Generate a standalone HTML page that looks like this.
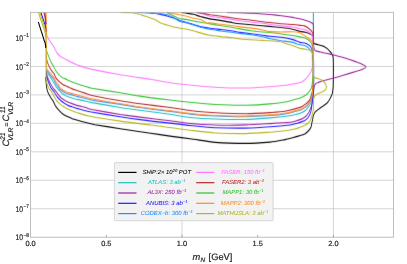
<!DOCTYPE html>
<html><head><meta charset="utf-8"><style>
html,body{margin:0;padding:0;background:#fff;}
body{width:407px;height:264px;overflow:hidden;}
svg{display:block;text-rendering:geometricPrecision;transform:translateZ(0);will-change:transform;font-family:"Liberation Sans",sans-serif;}
</style></head><body>
<svg width="407" height="264" viewBox="0 0 407 264">
<rect width="407" height="264" fill="#ffffff"/>
<g stroke="#b9b9b9" stroke-width="0.6" fill="none">
<line x1="30.6" x2="393.5" y1="38.00" y2="38.00"/>
<line x1="30.6" x2="393.5" y1="66.46" y2="66.46"/>
<line x1="30.6" x2="393.5" y1="94.91" y2="94.91"/>
<line x1="30.6" x2="393.5" y1="123.37" y2="123.37"/>
<line x1="30.6" x2="393.5" y1="151.83" y2="151.83"/>
<line x1="30.6" x2="393.5" y1="180.28" y2="180.28"/>
<line x1="30.6" x2="393.5" y1="208.74" y2="208.74"/>
<line x1="182.00" x2="182.00" y1="12.3" y2="237.2"/>
<line x1="333.40" x2="333.40" y1="12.3" y2="237.2"/>
</g>
<clipPath id="cp"><rect x="30.6" y="12.3" width="362.9" height="224.9"/></clipPath>
<filter id="bl" filterUnits="userSpaceOnUse" x="0" y="0" width="407" height="264"><feConvolveMatrix order="3 3" kernelMatrix="0 0.09 0 0.05 0.72 0.05 0 0.09 0" divisor="1" edgeMode="none" preserveAlpha="false"/></filter>
<g clip-path="url(#cp)"><g filter="url(#bl)"><g transform="scale(0.8,1)" fill="none" stroke-width="1.12" stroke-linejoin="round" stroke-linecap="butt">
<path d="M57.2 77.0C57.2 77.2 57.2 78.1 57.2 79.0C57.3 79.9 57.7 83.5 57.9 84.7C58.0 85.9 58.5 88.4 58.8 89.3C59.0 90.2 59.4 91.5 60.0 92.5C60.6 93.5 62.8 96.7 63.5 97.7C64.2 98.7 65.7 100.2 66.4 101.1C67.0 102.0 68.3 104.5 69.1 105.6C70.0 106.7 72.4 109.2 73.5 110.2C74.6 111.2 77.1 113.2 78.4 113.9C79.6 114.6 82.6 115.8 84.1 116.4C85.6 117.0 88.5 118.3 91.1 119.0C93.7 119.7 103.0 121.6 106.2 122.3C109.5 123.0 113.6 123.9 118.8 124.7C123.9 125.4 142.3 127.7 150.4 128.8C158.5 129.8 180.7 132.4 188.2 133.2C195.8 134.1 209.0 135.7 214.8 136.4C220.5 137.0 231.2 138.1 237.5 138.8C243.8 139.4 261.0 141.8 269.1 142.4C277.2 142.9 299.0 143.4 307.0 143.4C315.0 143.4 331.8 142.5 337.5 142.1C343.2 141.7 352.8 140.1 356.2 139.6C359.7 139.1 364.7 137.9 366.7 137.5C368.8 137.1 372.2 136.3 373.9 135.9C375.5 135.5 379.6 134.5 381.0 133.9C382.4 133.3 385.1 131.3 386.0 130.5C386.9 129.7 388.3 128.1 388.8 127.0C389.2 125.9 389.9 122.7 390.2 121.4C390.6 120.1 391.2 116.8 391.6 115.7C392.1 114.6 393.4 112.6 394.1 111.9C394.8 111.2 396.7 110.3 397.7 109.6C398.8 108.9 402.0 107.0 403.4 106.2C404.7 105.4 408.1 103.7 409.1 102.8C410.2 101.9 411.8 99.9 412.5 98.8C413.2 97.7 414.9 95.0 415.4 93.4C415.8 91.8 416.4 89.6 416.5 85.5C416.6 81.4 416.7 61.9 416.5 58.2C416.3 54.5 415.2 54.8 414.8 54.0C414.3 53.2 413.2 52.1 412.5 51.5C411.8 50.9 410.0 49.2 409.1 48.6C408.2 48.0 406.2 46.9 404.9 46.4C403.5 45.9 399.2 45.0 397.7 44.7C396.3 44.4 393.1 44.0 392.4 43.5C391.7 43.0 391.8 40.4 391.7 40.0" stroke="#000000"/>
<path d="M392.4 43.5C392.3 43.1 391.9 40.9 391.7 40.0C391.6 39.1 392.0 36.7 391.5 36.0C391.0 35.3 388.8 34.3 387.7 33.9C386.7 33.5 383.6 32.5 382.1 32.2C380.6 31.9 376.9 31.8 375.0 31.4C373.1 31.0 368.6 29.7 365.9 29.2C363.2 28.7 355.1 27.8 351.7 27.5C348.4 27.2 340.2 26.6 337.5 26.4C334.8 26.2 331.1 26.0 328.4 25.8C325.7 25.6 317.6 24.9 314.2 24.7C310.9 24.5 302.7 24.0 300.0 23.8C297.3 23.6 293.6 23.1 290.9 22.7C288.2 22.3 280.1 21.0 276.8 20.6C273.4 20.2 265.5 19.4 262.5 18.9C259.5 18.4 253.0 17.0 250.6 16.5C248.2 16.0 244.0 14.7 242.0 14.3C240.0 13.9 235.2 13.3 233.5 13.1C231.8 12.9 227.9 12.5 227.1 12.4" stroke="#000000" stroke-width="1.12"/>
<path d="M58.0 70.0C58.1 70.3 58.0 71.8 58.5 72.5C59.0 73.2 61.1 75.4 61.9 76.2C62.6 77.0 64.1 78.5 64.7 79.4C65.4 80.3 66.9 82.6 67.6 83.5C68.4 84.4 70.2 86.7 71.0 87.5C71.8 88.3 73.7 90.1 74.4 90.7C75.1 91.3 75.9 92.4 76.9 93.0C77.9 93.6 81.5 95.3 83.0 95.9C84.5 96.5 88.4 97.6 90.0 98.0C91.6 98.4 95.2 99.2 97.1 99.5C99.0 99.8 104.2 100.6 106.2 101.0C108.3 101.4 109.9 101.8 115.0 102.6C120.1 103.3 143.4 106.6 150.4 107.5C157.4 108.5 167.8 109.6 175.0 110.3C182.2 111.1 205.2 113.5 212.5 114.3C219.8 115.2 230.9 116.9 237.5 117.5C244.1 118.0 261.0 118.8 269.1 119.0C277.2 119.3 299.0 119.6 307.0 119.5C315.0 119.4 331.0 118.3 337.5 117.9C344.0 117.5 358.8 116.1 362.5 115.7C366.2 115.3 368.0 114.8 369.6 114.5C371.3 114.2 375.3 113.3 376.7 112.8C378.2 112.3 381.0 111.0 382.1 110.2C383.2 109.4 385.5 107.2 386.4 106.2C387.2 105.2 388.8 102.7 389.2 101.6C389.7 100.5 390.4 98.5 390.6 97.1C390.9 95.7 391.4 94.3 391.5 90.0C391.6 85.7 391.7 69.1 391.7 60.0C391.8 50.9 391.7 17.9 391.7 12.3" stroke="#1fbfbf"/>
<path d="M391.7 60.0C391.7 54.4 391.7 17.9 391.7 12.3" stroke="#1fbfbf" stroke-width="1.12"/>
<path d="M57.9 72.0C58.0 72.4 58.4 74.7 58.8 75.6C59.1 76.5 60.1 78.6 60.6 79.6C61.2 80.6 62.8 83.2 63.5 84.2C64.2 85.2 65.6 87.3 66.4 88.1C67.1 88.9 69.0 90.5 69.9 91.4C70.7 92.3 72.6 94.5 73.5 95.4C74.4 96.3 76.6 98.1 77.8 98.8C78.9 99.5 81.6 100.6 83.0 101.2C84.4 101.8 88.4 103.1 90.0 103.6C91.6 104.1 95.2 105.2 97.1 105.6C99.0 106.0 104.2 106.9 106.2 107.3C108.3 107.7 109.9 108.6 115.0 109.5C120.1 110.3 143.4 113.6 150.4 114.5C157.4 115.3 167.8 116.4 175.0 117.1C182.2 117.9 205.2 120.0 212.5 120.8C219.8 121.5 230.9 123.0 237.5 123.5C244.1 124.1 261.0 124.9 269.1 125.0C277.2 125.2 299.0 125.1 307.0 124.9C315.0 124.7 331.0 123.9 337.5 123.6C344.0 123.3 358.8 122.6 362.5 122.3C366.2 122.0 368.0 121.4 369.6 121.0C371.3 120.6 375.3 119.6 376.7 119.1C378.2 118.6 381.3 117.1 382.4 116.3C383.5 115.5 385.2 113.5 386.0 112.3C386.8 111.1 388.7 107.6 389.2 106.2C389.8 104.8 390.4 101.7 390.8 100.0C391.1 98.3 391.8 93.4 392.0 92.0C392.2 90.6 392.3 88.4 392.5 87.6C392.7 86.8 393.2 85.8 393.5 85.3C393.8 84.8 394.4 83.9 394.9 83.6C395.4 83.3 396.8 82.8 397.7 82.5C398.7 82.2 401.7 81.2 403.4 80.8C405.1 80.4 409.5 79.6 412.5 79.0C415.5 78.4 425.3 76.2 429.1 75.3C433.0 74.4 442.7 72.0 445.6 71.3C448.5 70.6 452.6 69.5 454.0 69.0C455.4 68.5 457.6 67.3 457.6 66.8C457.6 66.3 455.4 65.3 454.0 64.7C452.6 64.1 448.5 62.8 445.6 62.0C442.7 61.2 433.0 58.4 429.1 57.5C425.3 56.6 415.0 54.6 412.5 54.1C410.0 53.6 409.0 53.4 407.6 53.2C406.2 53.0 402.1 52.3 400.6 52.0C399.1 51.7 395.8 51.2 394.9 50.9C394.0 50.6 393.1 49.8 392.7 49.2C392.4 48.6 392.1 46.4 392.0 46.0" stroke="#9b1f9b"/>
<path d="M392.7 49.2C392.7 48.8 392.1 48.2 392.0 46.0C391.9 43.8 391.8 32.5 391.7 30.0C391.7 27.5 391.8 25.1 391.5 24.2C391.2 23.3 390.2 23.1 389.2 22.7C388.3 22.3 385.2 21.3 383.5 20.8C381.8 20.3 377.1 19.2 375.0 18.8C372.9 18.4 368.6 17.8 365.9 17.4C363.2 17.0 355.1 16.0 351.7 15.7C348.4 15.4 340.2 14.7 337.5 14.5C334.8 14.3 331.1 14.2 328.4 14.0C325.7 13.8 317.6 13.3 314.2 13.1C310.9 12.9 303.6 12.7 300.0 12.6C296.4 12.5 285.6 12.4 283.8 12.4" stroke="#9b1f9b" stroke-width="1.12"/>
<path d="M57.9 74.0C58.0 74.5 58.4 76.9 58.8 77.9C59.1 78.9 60.1 81.4 60.6 82.5C61.2 83.6 62.7 86.5 63.5 87.6C64.3 88.7 66.8 91.0 67.8 92.0C68.7 93.0 70.3 95.5 71.2 96.5C72.2 97.5 74.5 99.5 75.6 100.3C76.7 101.1 79.3 102.7 80.5 103.3C81.7 103.9 84.4 105.2 85.5 105.6C86.6 106.0 88.6 106.4 90.0 106.7C91.4 107.0 94.5 108.0 97.1 108.6C99.8 109.2 106.3 110.8 112.5 111.8C118.7 112.7 143.1 115.9 150.4 116.8C157.7 117.8 167.8 118.9 175.0 119.6C182.2 120.4 205.2 122.5 212.5 123.1C219.8 123.8 230.9 125.0 237.5 125.5C244.1 126.1 261.0 127.5 269.1 127.8C277.2 128.0 299.0 128.2 307.0 128.1C315.0 128.0 331.0 127.2 337.5 126.8C344.0 126.4 358.8 125.4 362.5 125.0C366.2 124.6 368.0 124.0 369.6 123.6C371.3 123.2 375.3 122.4 376.7 121.9C378.2 121.4 381.2 120.4 382.4 119.7C383.5 119.0 385.9 116.7 386.6 115.7C387.4 114.7 388.4 112.3 388.8 111.1C389.1 109.9 389.6 106.8 389.9 105.0C390.2 103.2 391.1 98.0 391.4 96.0C391.6 94.0 392.0 90.1 392.1 88.0C392.2 85.9 392.3 81.3 392.2 78.0C392.2 74.7 392.1 62.9 392.0 60.0C391.9 57.1 391.1 53.8 391.0 53.0" stroke="#1a1aff"/>
<path d="M392.0 60.0C391.9 59.2 391.2 54.2 391.0 53.0C390.8 51.8 390.2 50.5 389.9 49.8C389.6 49.1 389.0 47.5 388.5 46.9C388.0 46.3 386.5 45.2 385.6 44.7C384.7 44.2 381.9 43.3 380.6 43.0C379.4 42.7 376.7 42.8 375.0 42.4C373.3 42.0 368.6 40.2 365.9 39.6C363.2 39.0 355.1 37.7 351.7 37.3C348.4 36.9 340.2 36.5 337.5 36.3C334.8 36.1 331.1 35.6 328.4 35.3C325.7 35.0 317.6 34.1 314.2 33.8C310.9 33.5 302.7 32.7 300.0 32.4C297.3 32.1 293.6 31.3 290.9 31.0C288.2 30.7 280.1 29.8 276.8 29.5C273.4 29.2 265.2 28.6 262.5 28.3C259.8 28.0 255.3 27.4 253.4 27.1C251.5 26.8 247.9 26.0 246.2 25.6C244.6 25.2 240.9 24.3 239.2 23.9C237.6 23.5 233.8 22.6 232.1 22.2C230.5 21.8 226.2 21.1 225.0 20.8C223.8 20.5 222.7 19.8 221.6 19.4C220.6 19.0 217.4 18.1 215.9 17.7C214.4 17.3 210.4 16.4 208.8 16.0C207.1 15.6 203.4 14.9 201.8 14.6C200.1 14.3 196.3 13.7 194.6 13.5C193.0 13.3 188.3 12.7 187.5 12.6" stroke="#1a1aff" stroke-width="1.12"/>
<path d="M171.2 12.4C173.1 12.5 184.3 13.0 187.5 13.1C190.7 13.2 196.3 13.3 198.8 13.5C201.2 13.7 206.8 14.4 208.8 14.8C210.7 15.2 214.4 16.5 215.9 17.1C217.4 17.7 220.6 19.4 221.6 19.9C222.7 20.4 223.8 21.1 225.0 21.4C226.2 21.7 230.5 22.3 232.1 22.6C233.8 22.9 237.6 23.9 239.2 24.3C240.9 24.7 244.6 25.6 246.2 26.0C247.9 26.4 251.5 27.2 253.4 27.6C255.3 28.0 259.8 28.9 262.5 29.3C265.2 29.7 273.4 30.6 276.8 31.0C280.1 31.4 288.2 32.2 290.9 32.5C293.6 32.8 297.3 33.1 300.0 33.4C302.7 33.7 310.9 34.3 314.2 34.7C317.6 35.1 325.7 36.3 328.4 36.8C331.1 37.3 334.8 38.3 337.5 38.8C340.2 39.3 348.4 40.3 351.7 40.7C355.1 41.1 363.6 42.0 365.9 42.4C368.1 42.8 370.2 43.7 371.2 44.0C372.3 44.3 373.9 44.5 375.0 44.7C376.1 44.9 379.5 45.2 380.6 45.5C381.8 45.8 384.2 47.0 385.0 47.5C385.8 48.0 387.3 49.3 387.7 49.8C388.2 50.3 388.9 51.0 389.2 51.5C389.6 52.0 390.5 53.2 390.8 54.0C391.0 54.8 391.5 57.1 391.6 58.0C391.7 58.9 391.7 61.5 391.7 62.0" stroke="#1e90ff"/>
<path d="M57.9 70.1C58.2 70.4 60.0 72.3 60.8 73.0C61.5 73.7 63.5 75.7 64.2 76.4C65.0 77.1 66.5 78.4 67.1 79.2C67.7 80.0 68.6 82.3 69.2 83.2C69.9 84.1 72.2 85.8 72.9 86.6C73.6 87.4 74.1 89.0 75.2 89.8C76.4 90.6 80.7 92.6 82.4 93.2C84.1 93.8 88.3 94.5 90.0 94.9C91.7 95.3 95.2 96.2 97.1 96.6C99.0 97.0 104.2 97.9 106.2 98.3C108.3 98.7 109.9 99.4 115.0 100.2C120.1 100.9 143.4 103.6 150.4 104.4C157.4 105.3 167.8 106.7 175.0 107.5C182.2 108.4 205.2 110.7 212.5 111.4C219.8 112.2 230.9 113.6 237.5 114.1C244.1 114.7 261.0 115.8 269.1 116.0C277.2 116.3 299.0 116.8 307.0 116.7C315.0 116.6 331.8 115.8 337.5 115.5C343.2 115.2 351.9 114.5 356.2 113.9C360.6 113.3 372.3 110.8 375.0 110.2C377.7 109.6 378.3 109.0 379.2 108.5C380.2 108.0 382.5 107.0 383.5 106.2C384.5 105.4 387.0 102.8 387.7 101.7C388.5 100.6 389.5 97.7 389.9 96.6C390.2 95.5 390.8 92.5 390.9 92.0" stroke="#1e90ff"/>
<path d="M58.2 30.0C58.3 30.3 58.3 32.0 58.4 32.7C58.4 33.4 58.2 35.0 58.8 36.0C59.3 37.0 61.7 40.4 62.8 41.7C63.8 43.0 66.8 46.1 67.8 47.4C68.7 48.7 70.3 51.9 71.2 53.0C72.2 54.1 74.4 55.8 75.6 56.5C76.9 57.2 80.6 58.7 82.0 59.3C83.4 59.9 85.8 60.9 87.5 61.6C89.2 62.3 93.8 64.2 96.8 65.0C99.7 65.8 106.2 67.7 112.5 68.9C118.8 70.0 141.5 73.5 150.4 74.8C159.2 76.0 180.7 78.4 188.2 79.3C195.8 80.3 209.4 82.4 214.8 83.0C220.1 83.7 227.4 84.3 233.8 84.8C240.1 85.2 260.6 86.9 269.1 87.2C277.7 87.6 299.0 88.1 307.0 88.0C315.0 87.9 331.8 87.0 337.5 86.7C343.2 86.4 352.4 85.7 356.2 85.3C360.1 84.9 368.3 83.7 370.5 83.4C372.7 83.1 374.0 82.8 375.0 82.5C376.0 82.2 378.3 81.3 379.2 80.8C380.2 80.3 382.6 78.7 383.5 77.9C384.4 77.1 386.5 74.8 387.1 73.9C387.8 73.0 388.9 71.3 389.2 70.5C389.6 69.7 390.2 68.2 390.4 67.0C390.5 65.8 390.4 62.6 390.4 60.0C390.4 57.4 390.4 46.8 390.4 45.0" stroke="#ff77ff"/>
<path d="M390.4 60.0C390.4 58.2 390.3 47.3 390.4 45.0C390.4 42.7 390.7 41.2 390.6 40.0C390.6 38.8 390.2 35.9 389.9 35.0C389.5 34.1 388.7 33.3 387.7 32.7C386.8 32.1 383.6 30.4 382.1 29.9C380.6 29.4 376.9 29.0 375.0 28.7C373.1 28.4 368.6 27.3 365.9 27.0C363.2 26.7 355.1 26.2 351.7 25.9C348.4 25.6 340.2 24.6 337.5 24.3C334.8 24.0 331.1 23.5 328.4 23.3C325.7 23.1 317.6 22.5 314.2 22.2C310.9 21.9 302.7 21.0 300.0 20.7C297.3 20.4 293.6 19.9 290.9 19.6C288.2 19.3 280.1 18.3 276.8 17.9C273.4 17.5 265.2 16.7 262.5 16.2C259.8 15.7 255.8 14.4 253.8 14.0C251.7 13.6 246.0 12.6 245.0 12.4" stroke="#ff77ff" stroke-width="1.12"/>
<path d="M57.9 56.0C57.9 56.3 58.1 58.0 58.2 58.7C58.4 59.4 58.9 61.1 59.2 62.0C59.6 62.9 60.7 65.4 61.4 66.5C62.0 67.6 64.1 70.2 64.9 71.1C65.6 72.0 67.2 73.1 67.8 73.9C68.3 74.7 69.2 77.0 69.9 77.9C70.5 78.8 72.5 80.5 73.5 81.3C74.5 82.1 77.1 83.8 78.4 84.4C79.6 85.0 82.8 86.1 84.1 86.6C85.5 87.1 88.5 88.4 90.0 88.9C91.5 89.4 95.2 90.3 97.1 90.8C99.0 91.3 104.2 92.6 106.2 93.1C108.3 93.6 109.9 94.6 115.0 95.5C120.1 96.4 143.4 99.9 150.4 100.8C157.4 101.8 167.8 103.0 175.0 103.8C182.2 104.5 205.2 106.7 212.5 107.5C219.8 108.2 230.9 109.9 237.5 110.5C244.1 111.2 261.0 112.4 269.1 112.8C277.2 113.1 299.0 113.7 307.0 113.7C315.0 113.7 331.8 112.9 337.5 112.6C343.2 112.3 351.9 111.9 356.2 111.3C360.6 110.7 372.3 108.1 375.0 107.4C377.7 106.7 378.3 106.1 379.2 105.6C380.2 105.1 382.6 104.0 383.5 103.3C384.4 102.6 386.5 100.9 387.1 99.9C387.8 98.9 388.8 96.1 389.2 94.8C389.7 93.5 390.6 90.7 390.9 89.0C391.1 87.3 391.3 83.4 391.4 80.0C391.5 76.6 391.6 64.7 391.6 60.0C391.7 55.3 391.7 42.3 391.7 40.0" stroke="#b52828"/>
<path d="M391.6 60.0C391.6 57.7 391.7 43.0 391.7 40.0C391.7 37.0 391.8 35.4 391.6 34.4C391.4 33.4 390.5 32.3 389.9 31.6C389.3 30.9 387.5 29.5 386.4 28.8C385.3 28.1 382.0 26.3 380.6 25.9C379.3 25.5 376.7 25.6 375.0 25.4C373.3 25.2 368.6 24.7 365.9 24.5C363.2 24.3 355.1 23.9 351.7 23.7C348.4 23.5 340.2 22.7 337.5 22.5C334.8 22.3 331.1 22.0 328.4 21.7C325.7 21.4 317.6 20.5 314.2 20.2C310.9 19.9 302.7 19.3 300.0 19.0C297.3 18.7 293.6 18.3 290.9 18.0C288.2 17.7 280.1 16.7 276.8 16.3C273.4 15.9 265.2 15.0 262.5 14.7C259.8 14.3 255.3 13.6 253.4 13.3C251.5 13.0 247.1 12.5 246.2 12.4" stroke="#b52828" stroke-width="1.12"/>
<path d="M57.9 48.6C57.9 48.9 57.9 49.9 58.2 50.8C58.6 51.7 60.0 54.7 60.6 55.9C61.2 57.1 62.8 60.3 63.5 61.5C64.2 62.7 66.2 65.3 67.0 66.5C67.8 67.7 69.8 70.7 70.6 71.7C71.5 72.7 73.1 74.4 74.1 75.1C75.1 75.8 78.0 77.4 79.1 77.9C80.3 78.4 82.9 79.3 84.1 79.8C85.4 80.3 88.5 81.5 90.0 82.0C91.5 82.5 95.2 83.5 97.1 84.0C99.0 84.5 104.2 85.8 106.2 86.3C108.3 86.8 109.9 87.5 115.0 88.3C120.1 89.0 143.4 91.9 150.4 92.8C157.4 93.8 167.8 95.3 175.0 96.1C182.2 97.0 205.2 99.3 212.5 100.0C219.8 100.8 230.9 101.8 237.5 102.3C244.1 102.9 261.0 104.1 269.1 104.5C277.2 104.8 299.0 105.3 307.0 105.2C315.0 105.1 331.8 104.3 337.5 103.9C343.2 103.5 351.9 102.7 356.2 102.0C360.6 101.3 372.3 98.6 375.0 98.0C377.7 97.4 378.3 96.9 379.2 96.5C380.2 96.1 382.6 95.0 383.5 94.3C384.4 93.6 386.5 91.5 387.1 90.8C387.8 90.1 388.9 88.7 389.2 88.0C389.6 87.3 389.9 86.1 390.1 84.7C390.3 83.3 391.0 78.9 391.1 76.0C391.3 73.1 391.3 63.2 391.4 60.0C391.4 56.8 391.4 49.9 391.4 48.6" stroke="#32c232"/>
<path d="M391.4 60.0C391.4 58.7 391.5 50.2 391.4 48.6C391.3 47.0 390.9 47.1 390.6 46.4C390.4 45.7 389.8 43.7 389.2 43.0C388.7 42.3 386.6 40.7 385.6 40.1C384.6 39.5 381.9 38.2 380.6 37.8C379.4 37.4 376.7 37.2 375.0 36.9C373.3 36.6 368.6 35.8 365.9 35.5C363.2 35.2 355.1 34.4 351.7 34.0C348.4 33.6 340.2 32.7 337.5 32.5C334.8 32.3 331.1 32.2 328.4 32.0C325.7 31.8 317.6 31.1 314.2 30.7C310.9 30.3 302.7 29.3 300.0 28.9C297.3 28.5 293.6 27.9 290.9 27.5C288.2 27.1 280.1 26.2 276.8 25.8C273.4 25.4 265.2 24.3 262.5 23.9C259.8 23.5 255.3 22.8 253.4 22.5C251.5 22.2 247.9 21.8 246.2 21.6C244.6 21.4 240.9 20.8 239.2 20.5C237.6 20.2 233.8 19.6 232.1 19.4C230.5 19.2 226.2 19.0 225.0 18.8C223.8 18.6 222.5 18.0 221.6 17.7C220.7 17.4 218.4 16.4 217.4 16.0C216.4 15.6 214.2 14.7 213.1 14.3C212.0 13.9 208.7 12.6 208.1 12.4" stroke="#32c232" stroke-width="1.12"/>
<path d="M57.8 12.3C57.8 17.9 57.7 53.5 57.8 60.0C57.8 66.5 57.8 66.7 57.9 67.7C58.0 68.7 58.1 68.3 58.5 68.8C58.9 69.3 60.6 71.0 61.4 71.7C62.1 72.4 64.1 74.4 64.9 75.1C65.6 75.8 67.2 77.1 67.8 77.9C68.3 78.7 69.2 81.0 69.9 81.9C70.5 82.8 72.8 84.5 73.5 85.3C74.2 86.1 74.8 87.7 75.9 88.5C77.0 89.3 81.4 91.3 83.0 91.9C84.6 92.5 88.4 93.2 90.0 93.6C91.6 94.0 95.2 94.9 97.1 95.3C99.0 95.7 104.2 96.6 106.2 97.0C108.3 97.4 109.9 98.1 115.0 98.9C120.1 99.7 143.4 102.9 150.4 103.8C157.4 104.8 167.8 106.1 175.0 107.0C182.2 107.8 205.2 110.1 212.5 110.8C219.8 111.6 230.9 113.0 237.5 113.5C244.1 114.1 261.0 115.2 269.1 115.5C277.2 115.7 299.0 116.2 307.0 116.1C315.0 116.0 331.8 115.2 337.5 114.9C343.2 114.6 351.9 113.9 356.2 113.3C360.6 112.7 372.3 110.2 375.0 109.6C377.7 109.0 378.3 108.4 379.2 107.9C380.2 107.4 382.5 106.4 383.5 105.6C384.5 104.8 387.0 102.2 387.7 101.1C388.5 100.0 389.5 97.1 389.9 96.0C390.2 94.9 390.7 93.3 390.9 91.4C391.1 89.5 391.4 83.7 391.5 80.0C391.6 76.3 391.7 63.9 391.7 60.0C391.8 56.1 391.7 48.0 391.7 46.4" stroke="#ff8c1a"/>
<path d="M391.7 60.0C391.7 58.4 391.9 48.3 391.7 46.4C391.6 44.5 391.2 44.2 390.9 43.5C390.6 42.8 389.9 41.4 389.2 40.7C388.6 40.0 386.2 38.5 385.0 37.8C383.8 37.1 380.4 35.6 379.2 35.0C378.1 34.4 376.6 33.2 375.0 32.8C373.4 32.4 368.6 31.8 365.9 31.7C363.2 31.6 355.1 32.0 351.7 32.0C348.4 32.0 340.2 31.8 337.5 31.6C334.8 31.4 331.1 30.4 328.4 30.0C325.7 29.6 317.6 28.5 314.2 28.1C310.9 27.7 302.7 27.2 300.0 26.9C297.3 26.6 293.6 26.0 290.9 25.7C288.2 25.4 280.1 24.6 276.8 24.3C273.4 24.0 264.6 23.0 262.5 22.9C260.4 22.8 259.4 23.5 258.4 23.2C257.3 22.9 254.8 21.0 253.4 20.5C252.0 20.0 247.9 19.1 246.2 18.8C244.6 18.5 240.9 18.0 239.2 17.7C237.6 17.4 233.8 16.4 232.1 16.0C230.5 15.7 226.9 15.0 225.0 14.7C223.1 14.4 217.8 13.8 215.9 13.5C214.0 13.2 209.6 12.5 208.8 12.4" stroke="#ff8c1a" stroke-width="1.12"/>
<path d="M56.4 32.7C56.5 33.2 57.2 33.8 57.4 37.0C57.5 40.2 57.5 55.1 57.6 60.0C57.6 64.9 57.5 76.3 57.6 79.0C57.7 81.7 58.1 82.0 58.5 83.0C58.9 84.0 60.0 86.8 60.6 87.8C61.3 88.8 63.4 90.4 64.2 91.4C65.1 92.4 67.0 95.4 67.8 96.5C68.5 97.6 69.8 99.6 70.6 100.5C71.5 101.4 73.8 103.2 74.9 103.9C76.0 104.6 78.7 106.2 79.9 106.8C81.0 107.4 82.8 108.3 84.7 109.0C86.7 109.7 93.5 111.9 96.8 112.7C100.0 113.5 106.2 115.2 112.5 116.2C118.8 117.2 141.5 120.1 150.4 121.1C159.2 122.2 180.7 124.2 188.2 125.0C195.8 125.7 209.0 127.2 214.8 127.8C220.5 128.5 231.2 129.7 237.5 130.2C243.8 130.8 261.0 132.6 269.1 133.0C277.2 133.3 299.0 133.7 307.0 133.6C315.0 133.5 331.8 132.5 337.5 132.2C343.2 131.9 352.8 131.1 356.2 130.8C359.7 130.5 364.7 129.7 366.7 129.3C368.8 128.9 372.2 128.1 373.9 127.6C375.5 127.1 379.6 125.9 381.0 125.3C382.4 124.7 385.1 123.3 386.0 122.5C386.9 121.7 388.3 119.4 388.8 118.5C389.2 117.6 389.9 115.5 390.2 114.5C390.6 113.5 391.4 111.5 391.6 110.0C391.8 108.5 391.7 103.1 391.9 101.6C392.0 100.1 392.4 97.9 392.7 97.1C393.1 96.3 394.0 95.3 394.9 94.8C395.8 94.3 399.3 93.0 400.6 92.5C402.0 92.0 405.4 90.9 406.2 90.3C407.1 89.7 408.0 88.2 408.1 87.5C408.2 86.8 407.5 84.9 407.0 84.2C406.5 83.5 405.0 81.9 404.1 81.3C403.2 80.7 400.3 79.4 399.1 79.0C398.0 78.6 395.0 78.2 394.1 77.9C393.3 77.6 392.3 76.9 392.0 76.0C391.7 75.1 391.8 72.3 391.7 70.0C391.7 67.7 391.8 58.3 391.7 56.5C391.7 54.7 391.4 54.6 391.4 54.3" stroke="#b4b41e"/>
<path d="M391.7 56.5C391.7 56.2 391.6 54.8 391.4 54.3C391.2 53.8 390.4 52.5 389.9 52.0C389.4 51.5 388.0 50.6 387.1 50.3C386.2 50.0 383.5 49.4 382.1 49.2C380.7 49.0 376.4 48.7 375.0 48.4C373.6 48.1 371.7 47.4 370.5 47.0C369.3 46.6 366.3 45.6 364.8 45.2C363.2 44.8 359.0 44.2 357.5 43.8C356.0 43.4 354.1 42.1 351.7 41.8C349.4 41.4 340.2 41.0 337.5 40.8C334.8 40.6 331.1 40.5 328.4 40.4C325.7 40.3 317.6 40.0 314.2 39.8C310.9 39.6 302.7 39.2 300.0 39.0C297.3 38.8 293.6 38.1 290.9 37.8C288.2 37.5 280.1 37.0 276.8 36.7C273.4 36.4 265.2 35.7 262.5 35.3C259.8 34.9 255.3 34.0 253.4 33.6C251.5 33.2 247.9 32.3 246.2 31.9C244.6 31.5 240.9 30.5 239.2 30.2C237.6 29.9 233.8 29.2 232.1 29.0C230.5 28.8 226.9 28.5 225.0 28.2C223.1 27.9 217.8 27.2 215.9 26.8C214.0 26.4 210.4 25.4 208.8 25.0C207.1 24.6 203.4 23.9 201.8 23.3C200.1 22.7 196.3 20.6 194.6 19.9C193.0 19.2 189.4 18.2 187.5 17.7C185.6 17.2 180.3 15.9 178.4 15.4C176.5 14.9 172.9 14.0 171.2 13.7C169.6 13.4 166.6 13.0 164.2 12.8C161.9 12.6 152.3 12.4 150.7 12.4" stroke="#b4b41e" stroke-width="1.12"/>
</g></g><g transform="scale(0.8,1)" fill="none" stroke-linecap="butt"><path d="M47.9 21.9C48.3 23.0 50.9 29.5 51.7 31.6C52.6 33.7 54.5 38.7 55.0 40.0C55.5 41.3 56.1 42.1 56.4 42.8C56.6 43.5 57.0 45.6 57.1 46.2C57.2 46.8 57.2 47.8 57.2 48.0" stroke="#000000" stroke-width="1.30"/>
<path d="M54.6 12.3C54.9 13.0 56.4 16.6 56.7 18.0C57.1 19.4 57.5 23.3 57.6 24.0" stroke="#9b1f9b" stroke-width="1.20"/>
<path d="M51.1 12.3C51.7 13.8 55.6 23.1 56.4 25.2C57.1 27.3 57.4 29.4 57.5 30.0" stroke="#1a1aff" stroke-width="1.25"/>
<path d="M56.2 12.3C56.3 13.8 56.7 22.7 56.9 25.0C57.0 27.3 57.5 31.2 57.6 32.0" stroke="#b52828" stroke-width="1.20"/>
<path d="M47.9 12.3C48.5 13.8 52.1 22.4 53.1 24.8C54.1 27.2 55.9 31.3 56.4 32.7C56.9 34.1 57.1 36.5 57.2 37.0" stroke="#b4b41e" stroke-width="1.15"/>
<path d="M49.6 12.3C50.2 13.8 54.0 22.4 54.9 24.8C55.8 27.2 57.2 31.5 57.5 32.7C57.8 33.9 57.6 34.7 57.6 35.0" stroke="#b4b41e" stroke-width="1.15"/>
</g></g>
<rect x="30.6" y="12.3" width="362.9" height="224.9" fill="none" stroke="#a9a9a9" stroke-width="0.75"/>
<line x1="106.30" x2="106.30" y1="234.8" y2="237.2" stroke="#9a9a9a" stroke-width="0.8"/>
<line x1="182.00" x2="182.00" y1="234.8" y2="237.2" stroke="#9a9a9a" stroke-width="0.8"/>
<line x1="257.70" x2="257.70" y1="234.8" y2="237.2" stroke="#9a9a9a" stroke-width="0.8"/>
<line x1="333.40" x2="333.40" y1="234.8" y2="237.2" stroke="#9a9a9a" stroke-width="0.8"/>
<g fill="#222" stroke="#222" stroke-width="0.18">
<text x="15.5" y="41.0" font-size="8.1" textLength="7.5" lengthAdjust="spacingAndGlyphs">10</text><text x="23.4" y="37.3" font-size="5.5" textLength="5.4" lengthAdjust="spacingAndGlyphs">−1</text>
<text x="15.5" y="69.5" font-size="8.1" textLength="7.5" lengthAdjust="spacingAndGlyphs">10</text><text x="23.4" y="65.8" font-size="5.5" textLength="5.4" lengthAdjust="spacingAndGlyphs">−2</text>
<text x="15.5" y="97.9" font-size="8.1" textLength="7.5" lengthAdjust="spacingAndGlyphs">10</text><text x="23.4" y="94.2" font-size="5.5" textLength="5.4" lengthAdjust="spacingAndGlyphs">−3</text>
<text x="15.5" y="126.4" font-size="8.1" textLength="7.5" lengthAdjust="spacingAndGlyphs">10</text><text x="23.4" y="122.7" font-size="5.5" textLength="5.4" lengthAdjust="spacingAndGlyphs">−4</text>
<text x="15.5" y="154.8" font-size="8.1" textLength="7.5" lengthAdjust="spacingAndGlyphs">10</text><text x="23.4" y="151.1" font-size="5.5" textLength="5.4" lengthAdjust="spacingAndGlyphs">−5</text>
<text x="15.5" y="183.3" font-size="8.1" textLength="7.5" lengthAdjust="spacingAndGlyphs">10</text><text x="23.4" y="179.6" font-size="5.5" textLength="5.4" lengthAdjust="spacingAndGlyphs">−6</text>
<text x="15.5" y="211.7" font-size="8.1" textLength="7.5" lengthAdjust="spacingAndGlyphs">10</text><text x="23.4" y="208.0" font-size="5.5" textLength="5.4" lengthAdjust="spacingAndGlyphs">−7</text>
<text x="15.5" y="240.2" font-size="8.1" textLength="7.5" lengthAdjust="spacingAndGlyphs">10</text><text x="23.4" y="236.5" font-size="5.5" textLength="5.4" lengthAdjust="spacingAndGlyphs">−8</text>
<text x="30.6" y="246" text-anchor="middle" font-size="7.4">0.0</text>
<text x="106.3" y="246" text-anchor="middle" font-size="7.4">0.5</text>
<text x="182.0" y="246" text-anchor="middle" font-size="7.4">1.0</text>
<text x="257.7" y="246" text-anchor="middle" font-size="7.4">1.5</text>
<text x="333.4" y="246" text-anchor="middle" font-size="7.4">2.0</text>
</g>
<rect x="114.4" y="162.6" width="158.7" height="58.1" rx="0.8" fill="#f2f2f2" stroke="#c8c8c8" stroke-width="0.7"/>
<line x1="118.2" x2="136.5" y1="172.4" y2="172.4" stroke="#000000" stroke-width="1.2"/><text x="166.8" y="173.8" text-anchor="middle" font-size="5.9" font-style="italic" fill="#000000" stroke="#000000" stroke-width="0.05">SHiP:2× 10<tspan font-size='4.2' dy='-2.2'>20</tspan><tspan dy='2.2'> POT</tspan></text>
<line x1="118.2" x2="136.5" y1="182.7" y2="182.7" stroke="#1fbfbf" stroke-width="1.2"/><text x="166.8" y="184.1" text-anchor="middle" font-size="5.9" font-style="italic" fill="#1fbfbf" stroke="#1fbfbf" stroke-width="0.05">ATLAS: 3 ab<tspan font-size='4.2' dy='-2.2'>−1</tspan></text>
<line x1="118.2" x2="136.5" y1="193.0" y2="193.0" stroke="#9b1f9b" stroke-width="1.2"/><text x="166.8" y="194.4" text-anchor="middle" font-size="5.9" font-style="italic" fill="#9b1f9b" stroke="#9b1f9b" stroke-width="0.05">AL3X: 250 fb<tspan font-size='4.2' dy='-2.2'>−1</tspan></text>
<line x1="118.2" x2="136.5" y1="203.3" y2="203.3" stroke="#1a1aff" stroke-width="1.2"/><text x="166.8" y="204.7" text-anchor="middle" font-size="5.9" font-style="italic" fill="#1a1aff" stroke="#1a1aff" stroke-width="0.05">ANUBIS: 3 ab<tspan font-size='4.2' dy='-2.2'>−1</tspan></text>
<line x1="118.2" x2="136.5" y1="213.6" y2="213.6" stroke="#1e90ff" stroke-width="1.2"/><text x="166.8" y="215.0" text-anchor="middle" font-size="5.9" font-style="italic" fill="#1e90ff" stroke="#1e90ff" stroke-width="0.05">CODEX−b: 300 fb<tspan font-size='4.2' dy='-2.2'>−1</tspan></text>
<line x1="196.2" x2="214.3" y1="172.4" y2="172.4" stroke="#ff77ff" stroke-width="1.2"/><text x="243" y="173.8" text-anchor="middle" font-size="5.9" font-style="italic" fill="#ff77ff" stroke="#ff77ff" stroke-width="0.05">FASER: 150 fb<tspan font-size='4.2' dy='-2.2'>−1</tspan></text>
<line x1="196.2" x2="214.3" y1="182.7" y2="182.7" stroke="#b52828" stroke-width="1.2"/><text x="243" y="184.1" text-anchor="middle" font-size="5.9" font-style="italic" fill="#b52828" stroke="#b52828" stroke-width="0.05">FASER2: 3 ab<tspan font-size='4.2' dy='-2.2'>−1</tspan></text>
<line x1="196.2" x2="214.3" y1="193.0" y2="193.0" stroke="#32c232" stroke-width="1.2"/><text x="243" y="194.4" text-anchor="middle" font-size="5.9" font-style="italic" fill="#32c232" stroke="#32c232" stroke-width="0.05">MAPP1: 30 fb<tspan font-size='4.2' dy='-2.2'>−1</tspan></text>
<line x1="196.2" x2="214.3" y1="203.3" y2="203.3" stroke="#ff8c1a" stroke-width="1.2"/><text x="243" y="204.7" text-anchor="middle" font-size="5.9" font-style="italic" fill="#ff8c1a" stroke="#ff8c1a" stroke-width="0.05">MAPP2: 300 fb<tspan font-size='4.2' dy='-2.2'>−1</tspan></text>
<line x1="196.2" x2="214.3" y1="213.6" y2="213.6" stroke="#b4b41e" stroke-width="1.2"/><text x="243" y="215.0" text-anchor="middle" font-size="5.9" font-style="italic" fill="#b4b41e" stroke="#b4b41e" stroke-width="0.05">MATHUSLA: 3 ab<tspan font-size='4.2' dy='-2.2'>−1</tspan></text>

<g fill="#222" stroke="#222" stroke-width="0.18"><text x="192.6" y="260.4" font-size="9.3" font-style="italic">m</text><text x="200.4" y="262.1" font-size="6.5" font-style="italic">N</text><text x="208.6" y="260.4" font-size="9.3">[GeV]</text></g>
<g transform="translate(8.5,146.6) rotate(-90)" font-style="italic" fill="#222" stroke="#222" stroke-width="0.18"><text x="0" y="0" font-size="9.3">C</text><text x="6.7" y="-4" font-size="6.8">21</text><text x="5.9" y="4.3" font-size="6.8">VLR</text><text x="20.1" y="0.3" font-size="7" font-style="normal">=</text><text x="25" y="0" font-size="9.3">C</text><text x="33.3" y="-4" font-size="6.8">11</text><text x="31.6" y="4.3" font-size="6.8">VLR</text></g>
</svg>
</body></html>
